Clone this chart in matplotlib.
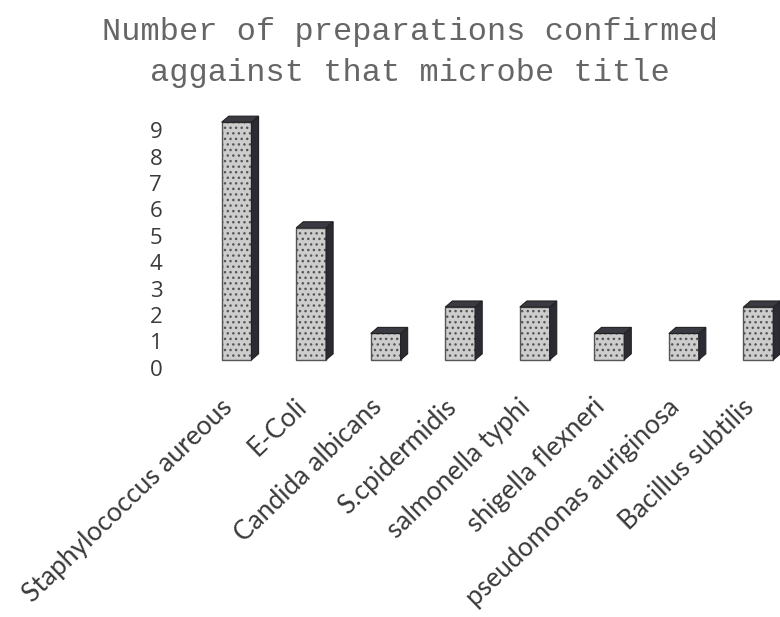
import numpy as np
import matplotlib
matplotlib.use("Agg")
import matplotlib.pyplot as plt
import matplotlib.transforms as mtransforms
from matplotlib.patches import Polygon

microbes = [
    "Staphylococcus aureous",
    "E-Coli",
    "Candida albicans",
    "S.cpidermidis",
    "salmonella typhi",
    "shigella flexneri",
    "pseudomonas auriginosa",
    "Bacillus subtilis",
]
counts = [9, 5, 1, 2, 2, 1, 1, 2]
y_ticks = list(range(0, 10))

title = "Number of preparations confirmed\naggainst that microbe title"

# 3d look of the excel chart
floor = 0.3
width = 0.4
dx, dy = 0.095, 0.23

fig = plt.figure(figsize=(7.8, 6.17), dpi=100)
ax = fig.add_axes([0.224, 0.3825, 0.776, 0.4408])

x = np.arange(len(microbes))
ax.bar(x, counts, width=width, bottom=floor, color="#cdcdcd",
       edgecolor="#555555", linewidth=1.0, hatch="...", zorder=2)

for xi, v in zip(x, counts):
    left, right = xi - width / 2, xi + width / 2
    top = floor + v
    side = Polygon([(right, floor), (right + dx, floor + dy),
                    (right + dx, top + dy), (right, top)],
                   closed=True, facecolor="#2b2b33", edgecolor="#222222",
                   linewidth=0.8, zorder=3)
    cap = Polygon([(left, top), (left + dx, top + dy),
                   (right + dx, top + dy), (right, top)],
                  closed=True, facecolor="#3a3a42", edgecolor="#222222",
                  linewidth=0.8, zorder=3)
    ax.add_patch(side)
    ax.add_patch(cap)

ax.set_xlim(-0.83, 7.29)
ax.set_ylim(-0.5, 9.8)
ax.set_yticks(y_ticks)
ax.set_yticklabels([str(t) for t in y_ticks], fontsize=16, color="#3a3a3a",
                   family="Open Sans")
ax.set_xticks([])
ax.tick_params(axis="both", length=0)
ax.tick_params(axis="y", pad=9)
for s in ax.spines.values():
    s.set_visible(False)

# category names, slanted, ending just under each bar
shift = mtransforms.ScaledTranslation(-12 / 72, -9.5 / 72, fig.dpi_scale_trans)
for xi, name in zip(x, microbes):
    ax.text(xi, 0, name, transform=ax.get_xaxis_transform() + shift,
            rotation=44, rotation_mode="anchor", ha="right", va="top",
            fontsize=19, color="#3a3a3a", family="Lato")

fig.text(0.526, 0.915, title, ha="center", va="center", fontsize=23,
         family="Liberation Mono", color="#666666", linespacing=1.5)

fig.savefig("out.png", dpi=100)
